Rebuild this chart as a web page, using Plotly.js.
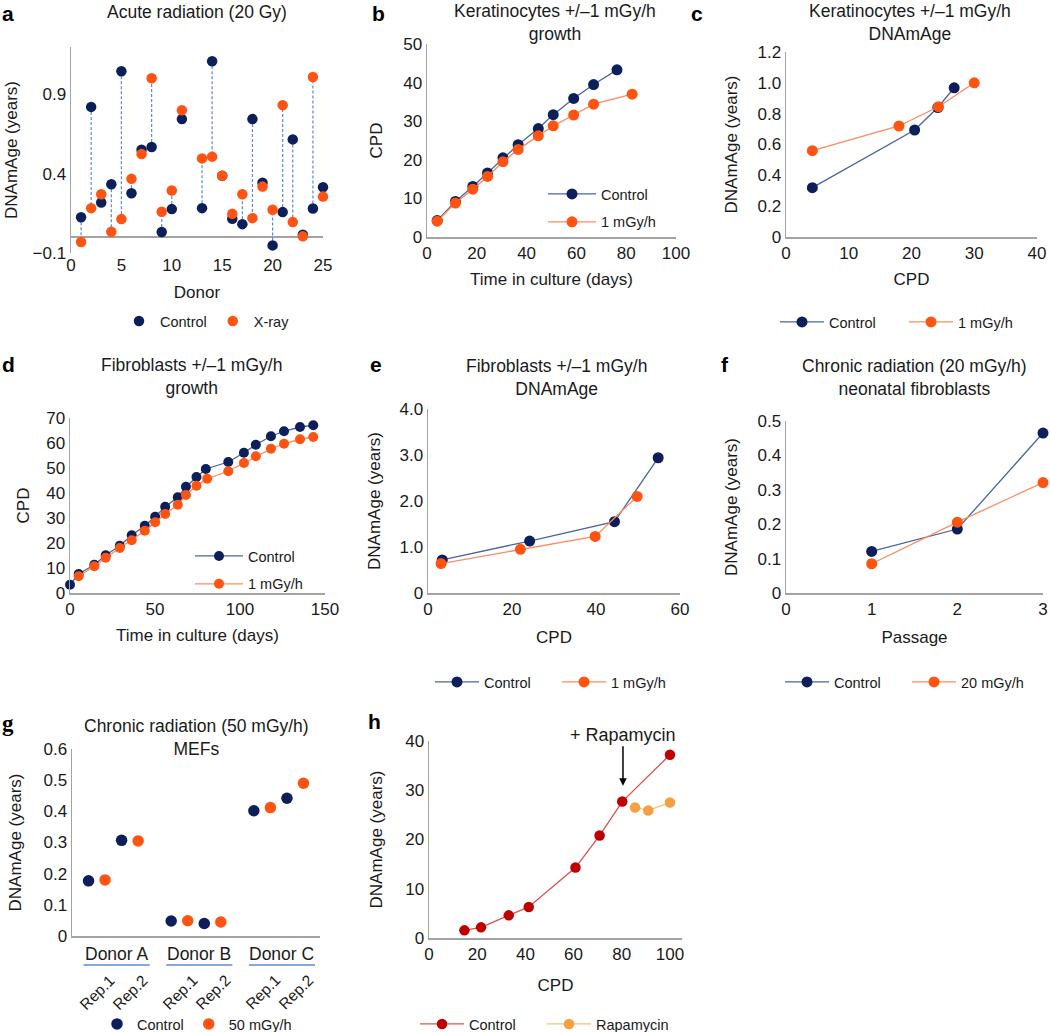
<!DOCTYPE html>
<html><head><meta charset="utf-8">
<script src="https://cdn.plot.ly/plotly-3.0.1.min.js"></script>
<style>html,body{margin:0;padding:0;background:#fff;overflow:hidden}#chart{width:1050px;height:1040px}</style>
</head><body><div id="chart"></div><script>
// ---------- data ----------
// a: Acute radiation (20 Gy)
const aDonor   = [1,2,3,4,5,6,7,8,9,10,11,13,14,15,16,17,18,19,20,21,22,23,24,25];
const aControl = [0.126,0.822,0.219,0.334,1.047,0.277,0.552,0.569,0.032,0.177,0.745,0.183,1.110,0.388,0.116,0.082,0.745,0.344,-0.052,0.158,0.617,0.015,0.181,0.315];
const aXray    = [-0.031,0.183,0.271,0.034,0.114,0.368,0.525,1.003,0.160,0.294,0.801,0.497,0.508,0.388,0.147,0.271,0.120,0.319,0.173,0.833,0.095,0.005,1.011,0.256];
const aXTicks  = [0,5,10,15,20,25];
const aYTicks  = [-0.1,0.4,0.9];
const aYTickText = ['\u22120.1','0.4','0.9'];
// b: Keratinocytes growth
const bDaysControl = [4.1,11.4,18.4,24.3,30.5,36.6,44.7,50.7,58.9,66.9,76.3];
const bControl     = [4.3,9.2,13.1,16.6,20.5,23.9,28.1,31.7,35.9,39.5,43.3];
const bDaysIrr     = [4.1,11.4,18.4,24.3,30.5,36.6,44.7,50.7,58.9,66.9,82.4];
const bIrr         = [4.1,8.8,12.4,15.7,19.5,22.7,26.2,28.8,31.6,34.4,37.0];
// c: Keratinocytes DNAmAge
const cCPDControl = [4.2,20.5,24.2,26.8];
const cControl    = [0.32,0.694,0.84,0.968];
const cCPDIrr     = [4.2,18.0,24.3,30.0];
const cIrr        = [0.56,0.72,0.845,1.0];
const cYTicks     = [0,0.2,0.4,0.6,0.8,1.0,1.2];
const cYTickText  = ['0','0.2','0.4','0.6','0.8','1.0','1.2'];
// d: Fibroblasts growth
const dDaysControl = [0,5.1,14.3,21.0,29.3,36.3,44.0,50.1,56.0,63.4,68.2,74.4,79.9,93.1,102.3,109.3,118.2,125.9,135.3,143.1];
const dControl     = [3.3,7.6,11.3,15.1,18.9,23.1,26.9,30.5,34.5,38.3,42.5,46.4,49.6,52.4,56.1,59.3,62.7,64.7,66.4,67.1];
const dDaysIrr     = [5.1,14.3,21.0,29.3,36.3,44.0,50.1,56.0,63.4,68.2,74.4,80.7,93.1,102.3,109.3,118.2,125.9,135.3,143.1];
const dIrr         = [6.7,10.7,14.1,18.0,21.1,24.9,28.3,31.6,35.3,39.2,42.9,45.7,48.7,52.0,54.7,57.7,59.7,61.5,62.4];
// e: Fibroblasts DNAmAge
const eCPDControl = [3.4,24.2,44.4,54.8];
const eControl    = [0.72,1.13,1.55,2.94];
const eCPDIrr     = [3.1,22.0,39.8,49.8];
const eIrr        = [0.64,0.95,1.23,2.10];
const eYTicks     = [0,1,2,3,4];
const eYTickText  = ['0','1.0','2.0','3.0','4.0'];
// f: Chronic radiation (20 mGy/h) neonatal fibroblasts
const fPassage = [1,2,3];
const fControl = [0.121,0.186,0.465];
const fIrr     = [0.085,0.206,0.321];
const fYTicks  = [0,0.1,0.2,0.3,0.4,0.5];
const fYTickText = ['0','0.1','0.2','0.3','0.4','0.5'];
// g: Chronic radiation (50 mGy/h) MEFs
const gDonors  = ['Donor A','Donor B','Donor C'];
const gReps    = ['Rep.1','Rep.2'];
const gControl = [0.177,0.307,0.048,0.040,0.402,0.442];
const gIrr     = [0.180,0.305,0.049,0.045,0.412,0.490];
const gYTicks  = [0,0.1,0.2,0.3,0.4,0.5,0.6];
const gYTickText = ['0','0.1','0.2','0.3','0.4','0.5','0.6'];
// h: Rapamycin
const hCPD      = [14.7,21.6,33.1,41.4,60.8,70.8,80.2,100];
const hControl  = [1.55,2.16,4.6,6.3,14.3,20.8,27.7,37.2];
const hCPDRapa  = [85.5,91.0,100];
const hRapa     = [26.5,25.9,27.5];
const hXTicks   = [0,20,40,60,80,100];

// ---------- styling ----------
const W = 1050, H = 1040;   // drawing is slightly taller than the 1032 px window; the extra 8 px stay blank
const px = v => v / W;
const py = v => 1 - v / H;
const NAVY = '#0c1f5b', ORANGE = '#ff5312';
const NAVYLINE = '#4a64a0', ORANGELINE = '#ff8a5e';
const RED = '#c00000', REDLINE = '#e0504f';
const RAPA = '#f5a043', RAPALINE = '#f7c070';
const AXIS = '#a3a3a3', TXT = '#1a1a1a';
const FONT = 'Liberation Sans, Arial, Helvetica, sans-serif';
const TF = {family: FONT, size: 17, color: TXT};
const HF = {family: FONT, size: 17.5, color: TXT};

function xAxis(x0, x1, anchor, range, title, extra, so) {
  return Object.assign({
    domain: [px(x0), px(x1)], anchor: anchor, range: range,
    showline: true, linecolor: AXIS, linewidth: 1.5, showgrid: false, zeroline: false,
    ticks: '', tickfont: TF, fixedrange: true,
    title: {text: title, font: TF, standoff: so === undefined ? 12 : so}
  }, extra || {});
}
function yAxis(yb, yt, anchor, range, title, extra, so) {
  return Object.assign({
    domain: [py(yb), py(yt)], anchor: anchor, range: range,
    showline: true, linecolor: AXIS, linewidth: 1.5, showgrid: false, zeroline: false,
    ticks: '', tickfont: TF, fixedrange: true,
    title: {text: title, font: TF, standoff: so === undefined ? 10 : so}
  }, extra || {});
}
function line(x, y, name, col, lcol, size, xa, ya, lg, grp) {
  return {x: x, y: y, name: name, type: 'scatter', mode: 'lines+markers',
    marker: {color: col, size: size}, line: {color: lcol, width: 1.3},
    xaxis: xa, yaxis: ya, legend: lg, legendgroup: grp, cliponaxis: false};
}
function dots(x, y, name, col, size, xa, ya, lg, grp) {
  return {x: x, y: y, name: name, type: 'scatter', mode: 'markers',
    marker: {color: col, size: size}, xaxis: xa, yaxis: ya, legend: lg, legendgroup: grp, cliponaxis: false};
}

// ---------- traces ----------
const traces = [];
// a connectors (drawn from the data arrays)
const aCx = [], aCy = [];
aDonor.forEach((d, i) => { aCx.push(d, d, null); aCy.push(aControl[i], aXray[i], null); });
traces.push({x: aCx, y: aCy, type: 'scatter', mode: 'lines', line: {color: '#5a8ad8', width: 1.2, dash: '3px,2px'},
  showlegend: false, hoverinfo: 'skip', xaxis: 'x', yaxis: 'y', cliponaxis: false});
traces.push(dots(aDonor, aControl, 'Control', NAVY, 10.5, 'x', 'y', 'legend', 'a1'));
traces.push(dots(aDonor, aXray, 'X-ray', ORANGE, 10.5, 'x', 'y', 'legend', 'a2'));
// b
traces.push(line(bDaysControl, bControl, 'Control', NAVY, NAVYLINE, 11, 'x2', 'y2', 'legend2', 'b1'));
traces.push(line(bDaysIrr, bIrr, '1 mGy/h', ORANGE, ORANGELINE, 11, 'x2', 'y2', 'legend2', 'b2'));
// c
traces.push(line(cCPDControl, cControl, 'Control', NAVY, NAVYLINE, 11, 'x3', 'y3', 'legend3', 'c1'));
traces.push(line(cCPDIrr, cIrr, '1 mGy/h', ORANGE, ORANGELINE, 11, 'x3', 'y3', 'legend3', 'c2'));
// d
traces.push(line(dDaysControl, dControl, 'Control', NAVY, NAVYLINE, 10, 'x4', 'y4', 'legend4', 'd1'));
traces.push(line(dDaysIrr, dIrr, '1 mGy/h', ORANGE, ORANGELINE, 10, 'x4', 'y4', 'legend4', 'd2'));
// e
traces.push(line(eCPDControl, eControl, 'Control', NAVY, NAVYLINE, 11, 'x5', 'y5', 'legend5', 'e1'));
traces.push(line(eCPDIrr, eIrr, '1 mGy/h', ORANGE, ORANGELINE, 11, 'x5', 'y5', 'legend5', 'e2'));
// f
traces.push(line(fPassage, fControl, 'Control', NAVY, NAVYLINE, 11, 'x6', 'y6', 'legend6', 'f1'));
traces.push(line(fPassage, fIrr, '20 mGy/h', ORANGE, ORANGELINE, 11, 'x6', 'y6', 'legend6', 'f2'));
// g: each donor block holds Rep.1 (ctrl, irr), Rep.2 (ctrl, irr), then a gap
const gPosCtrl = [], gPosIrr = [], gRepPos = [], gRepLab = [];
gDonors.forEach((d, di) => gReps.forEach((r, ri) => {
  gPosCtrl.push(1 + 5 * di + 2 * ri); gPosIrr.push(2 + 5 * di + 2 * ri);
  gRepPos.push(1.5 + 5 * di + 2 * ri); gRepLab.push(r);
}));
traces.push(dots(gPosCtrl, gControl, 'Control', NAVY, 11.5, 'x7', 'y7', 'legend7', 'g1'));
traces.push(dots(gPosIrr, gIrr, '50 mGy/h', ORANGE, 11.5, 'x7', 'y7', 'legend7', 'g2'));
// h
traces.push(line(hCPD, hControl, 'Control', RED, REDLINE, 10.5, 'x8', 'y8', 'legend8', 'h1'));
traces.push(line(hCPDRapa, hRapa, 'Rapamycin', RAPA, RAPALINE, 10.5, 'x8', 'y8', 'legend8', 'h2'));

// ---------- annotations ----------
const ann = [];
function txt(x, y, t, extra) {
  ann.push(Object.assign({xref: 'paper', yref: 'paper', x: px(x), y: py(y), text: t, showarrow: false,
    font: HF, xanchor: 'center', yanchor: 'middle'}, extra || {}));
}
const LF = {family: FONT, size: 21, color: '#000'};
txt(8, 14, '<b>a</b>', {font: LF});
txt(378, 14, '<b>b</b>', {font: LF});
txt(697, 14, '<b>c</b>', {font: LF});
txt(8, 364, '<b>d</b>', {font: LF});
txt(376, 364, '<b>e</b>', {font: LF});
txt(725, 364, '<b>f</b>', {font: LF});
txt(8, 723, '<b>g</b>', {font: {family: 'Liberation Serif, serif', size: 23, color: '#000'}});
txt(374, 721, '<b>h</b>', {font: LF});
txt(197, 12, 'Acute radiation (20 Gy)');
txt(555, 22, 'Keratinocytes +/\u20131 mGy/h<br>growth');
txt(910, 22, 'Keratinocytes +/\u20131 mGy/h<br>DNAmAge');
txt(191, 376, 'Fibroblasts +/\u20131 mGy/h<br>growth');
txt(556, 377, 'Fibroblasts +/\u20131 mGy/h<br>DNAmAge');
txt(914, 377, 'Chronic radiation (20 mGy/h)<br>neonatal fibroblasts');
txt(196, 737, 'Chronic radiation (50 mGy/h)<br>MEFs');
// g category labels
const shapes = [];
gDonors.forEach((d, di) => {
  const c = 2.7 + 5 * di;
  ann.push({xref: 'x7', yref: 'paper', x: c, y: py(954), text: d, showarrow: false, font: HF, xanchor: 'center', yanchor: 'middle'});
  shapes.push({type: 'line', xref: 'x7', yref: 'paper', x0: c - 2, x1: c + 2, y0: py(965), y1: py(965),
    line: {color: '#5b8ad8', width: 1.5}});
});
gRepPos.forEach((p, i) => {
  ann.push({xref: 'x7', yref: 'paper', x: p, y: py(992), text: gRepLab[i], showarrow: false, textangle: -45,
    font: {family: FONT, size: 15.5, color: TXT}, xanchor: 'center', yanchor: 'middle'});
});
// h arrow
ann.push({xref: 'x8', yref: 'y8', x: 80.5, y: 30.9, text: '+ Rapamycin', showarrow: true, ax: 0, ay: -51,
  arrowhead: 2, arrowsize: 1, arrowwidth: 1.5, arrowcolor: '#000', font: {family: FONT, size: 18, color: TXT}});

// ---------- layout ----------
const LEG = {family: FONT, size: 14.5, color: TXT};
function leg(x, y, orient, extra) {
  return Object.assign({x: px(x), y: py(y), xanchor: 'left', yanchor: 'middle', orientation: orient,
    font: LEG, bgcolor: 'rgba(0,0,0,0)', traceorder: 'normal'}, extra || {});
}
const layout = {
  width: W, height: H, margin: {l: 0, r: 0, t: 0, b: 0},
  paper_bgcolor: '#fff', plot_bgcolor: 'rgba(0,0,0,0)',
  font: TF, showlegend: true, hovermode: false,
  xaxis:  xAxis(71, 323, 'y', [0, 25], 'Donor', {showline: false, tickvals: aXTicks}, 11.5),
  yaxis:  yAxis(253, 47, 'x', [-0.1, 1.2], 'DNAmAge (years)', {tickvals: aYTicks, ticktext: aYTickText,
            zeroline: true, zerolinecolor: AXIS, zerolinewidth: 1.5}, 10),
  xaxis2: xAxis(427, 676, 'y2', [0, 100], 'Time in culture (days)', {dtick: 20}, 11),
  yaxis2: yAxis(237, 44, 'x2', [0, 50], 'CPD', {dtick: 10}, 16),
  xaxis3: xAxis(786, 1037, 'y3', [0, 40], 'CPD', {dtick: 10}, 11),
  yaxis3: yAxis(237, 52, 'x3', [0, 1.2], 'DNAmAge (years)', {tickvals: cYTicks, ticktext: cYTickText}, 15),
  xaxis4: xAxis(70, 325, 'y4', [0, 150], 'Time in culture (days)', {dtick: 50}, 11),
  yaxis4: yAxis(593, 418, 'x4', [0, 70], 'CPD', {dtick: 10}, 12),
  xaxis5: xAxis(428, 680, 'y5', [0, 60], 'CPD', {dtick: 20}, 13),
  yaxis5: yAxis(593, 409, 'x5', [0, 4], 'DNAmAge (years)', {tickvals: eYTicks, ticktext: eYTickText}, 14),
  xaxis6: xAxis(786, 1043, 'y6', [0, 3], 'Passage', {dtick: 1}, 13),
  yaxis6: yAxis(593, 421, 'x6', [0, 0.5], 'DNAmAge (years)', {tickvals: fYTicks, ticktext: fYTickText}, 15),
  xaxis7: xAxis(72, 320, 'y7', [0, 15], '', {showticklabels: false}),
  yaxis7: yAxis(936, 749, 'x7', [0, 0.6], 'DNAmAge (years)', {tickvals: gYTicks, ticktext: gYTickText}, 17),
  xaxis8: xAxis(429, 682, 'y8', [0, 105], 'CPD', {tickvals: hXTicks}, 16),
  yaxis8: yAxis(938, 741, 'x8', [0, 40], 'DNAmAge (years)', {dtick: 10}, 18),
  legend:  leg(118, 321, 'h', {itemwidth: 32}),
  legend2: leg(543, 208, 'v', {traceorder: 'grouped', tracegroupgap: 6, itemwidth: 48}),
  legend3: leg(775, 322, 'h', {entrywidth: 70, itemwidth: 44}),
  legend4: leg(190, 570, 'v', {traceorder: 'grouped', tracegroupgap: 6, itemwidth: 48}),
  legend5: leg(430, 682, 'h', {entrywidth: 68, itemwidth: 44}),
  legend6: leg(780, 682, 'h', {entrywidth: 68, itemwidth: 44}),
  legend7: leg(97, 1024, 'h', {itemwidth: 30}),
  legend8: leg(415, 1024, 'h', {entrywidth: 68, itemwidth: 44}),
  annotations: ann, shapes: shapes
};
Plotly.newPlot('chart', traces, layout, {staticPlot: true, displayModeBar: false});
</script></body></html>
